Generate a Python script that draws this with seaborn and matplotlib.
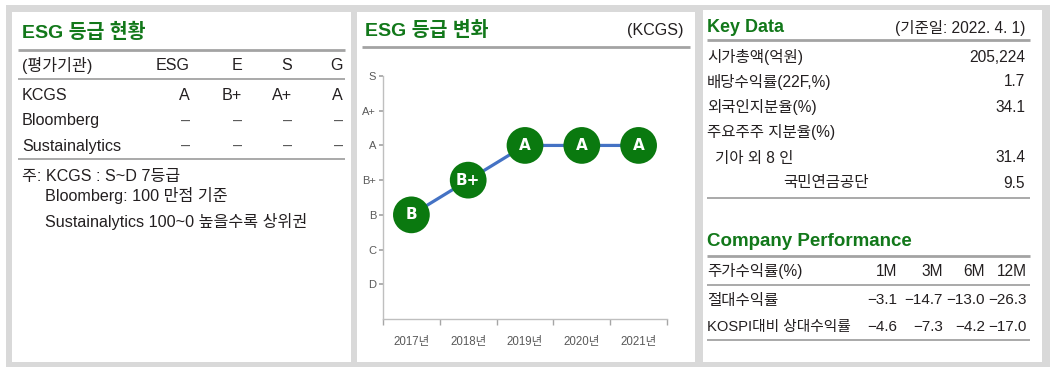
import matplotlib
matplotlib.use("Agg")
import pandas as pd
import seaborn as sns
import matplotlib.pyplot as plt
from matplotlib.patches import Rectangle

# ESG rating table (left panel)
esg_header = ["(평가기관)", "ESG", "E", "S", "G"]
esg_agencies = ["KCGS", "Bloomberg", "Sustainalytics"]
kcgs_grades = ["A", "B+", "A+", "A"]
bloomberg_grades = ["–", "–", "–", "–"]
sustain_grades = ["–", "–", "–", "–"]
esg_notes = ["주: KCGS : S~D 7등급", "Bloomberg: 100 만점 기준",
             "Sustainalytics 100~0 높을수록 상위권"]

# ESG grade history (middle panel)
years = ["2017년", "2018년", "2019년", "2020년", "2021년"]
grade_levels = ["D", "C", "B", "B+", "A", "A+", "S"]
grade_history = ["B", "B+", "A", "A", "A"]

# Key data (right panel)
key_labels = ["시가총액(억원)", "배당수익률(22F,%)", "외국인지분율(%)",
              "주요주주 지분율(%)", "기아 외 8 인", "국민연금공단"]
key_values = ["205,224", "1.7", "34.1", "", "31.4", "9.5"]
perf_header = ["주가수익률(%)", "1M", "3M", "6M", "12M"]
perf_abs = ["−3.1", "−14.7", "−13.0", "−26.3"]
perf_rel = ["−4.6", "−7.3", "−4.2", "−17.0"]

W, H = 1050, 378
GREEN = "#12781a"
TXT = "#231f20"
LINE = "#a3a3a3"
FS = 11.6   # body text, left/middle
FR = 11.2   # body text, right panel
FN = 11     # numbers

sns.set_theme(style="white")
plt.rcParams["font.family"] = ["Liberation Sans", "Noto Sans CJK KR"]
plt.rcParams["axes.unicode_minus"] = True

fig = plt.figure(figsize=(W / 100, H / 100), dpi=100)
fig.patch.set_facecolor("white")

bg = fig.add_axes([0, 0, 1, 1])
bg.set_xlim(0, W)
bg.set_ylim(H, 0)
bg.axis("off")

# gray frame + white panels
bg.add_patch(Rectangle((6, 5), W - 6, 362, color="#d9d9d9", lw=0))
for x0, x1, y0 in [(12, 351, 12), (357, 695, 12), (703, 1042, 10)]:
    bg.add_patch(Rectangle((x0, y0), x1 - x0, 362 - y0, color="white", lw=0))

def hline(y, x0, x1, lw=1.3):
    bg.plot([x0, x1], [y, y], color=LINE, lw=lw, solid_capstyle="butt")

# ---- left panel ----
bg.text(22, 32, "ESG 등급 현황", color=GREEN, fontsize=14, fontweight="bold", va="center")
hline(50, 18, 345, 2)
col_x = [190, 242, 292, 343]
bg.text(22, 66, esg_header[0], color=TXT, fontsize=FS, va="center")
for cx, h in zip(col_x, esg_header[1:]):
    bg.text(cx, 66, h, color=TXT, fontsize=FS, va="center", ha="right")
hline(79, 18, 345)
for ry, name, grades in zip([96, 121, 146], esg_agencies,
                            [kcgs_grades, bloomberg_grades, sustain_grades]):
    bg.text(22, ry, name, color=TXT, fontsize=FS, va="center")
    for cx, g in zip(col_x, grades):
        bg.text(cx, ry, g, color=TXT if g != "–" else "#555555", fontsize=FS,
                va="center", ha="right")
hline(159, 18, 345)
for nx, ny, note in zip([22, 45, 45], [176, 196, 222], esg_notes):
    bg.text(nx, ny, note, color=TXT, fontsize=FS, va="center")

# ---- middle panel ----
bg.text(365, 30, "ESG 등급 변화", color=GREEN, fontsize=14, fontweight="bold", va="center")
bg.text(684, 30, "(KCGS)", color=TXT, fontsize=FS, va="center", ha="right")
hline(47, 362, 690, 2)

df = pd.DataFrame({"year": years, "grade": grade_history})
df["level"] = df["grade"].map({g: i + 1 for i, g in enumerate(grade_levels)})

ax = fig.add_axes([383 / W, 1 - 319 / H, (667 - 383) / W, (319 - 76) / H])
ax.set_facecolor("none")
sns.lineplot(data=df, x="year", y="level", color="#4472c4", lw=2.3, sort=False, ax=ax)
sns.scatterplot(data=df, x="year", y="level", color="#0a790f", s=700,
                edgecolor="none", zorder=3, ax=ax, clip_on=False)
for i, row in df.iterrows():
    ax.text(i, row["level"], row["grade"], color="white", fontsize=11,
            fontweight="bold", ha="center", va="center", zorder=4,
            family=["DejaVu Sans"])
ax.set_xlim(-0.5, len(years) - 0.5)
ax.set_ylim(0, len(grade_levels))
ax.set_yticks(range(1, len(grade_levels) + 1))
ax.set_yticklabels(grade_levels)
ax.set_xticks(range(len(years)))
ax.set_xticklabels(years)
ax.set_xticks([i - 0.5 for i in range(len(years) + 1)], minor=True)
ax.tick_params(axis="x", which="major", length=0, pad=12, labelsize=8.3, labelcolor="#595959")
ax.tick_params(axis="x", which="minor", length=4, color="#a6a6a6", direction="out", bottom=True)
ax.tick_params(axis="y", length=3, color="#a6a6a6", direction="out", left=True,
               labelsize=8, labelcolor="#595959", pad=2)
ax.set_xlabel("")
ax.set_ylabel("")
for s in ["top", "right"]:
    ax.spines[s].set_visible(False)
for s in ["left", "bottom"]:
    ax.spines[s].set_color("#bfbfbf")
    ax.spines[s].set_linewidth(1)

# ---- right panel ----
bg.text(707, 28, "Key Data", color=GREEN, fontsize=13, fontweight="bold", va="center")
bg.text(1025, 28, "(기준일: 2022. 4. 1)", color=TXT, fontsize=FR, va="center", ha="right")
hline(40, 707, 1030, 2)
for lx, ry, lab, val in zip([707, 707, 707, 707, 715, 783],
                            [57, 82, 107, 132, 158, 183], key_labels, key_values):
    bg.text(lx, ry, lab, color=TXT, fontsize=FR, va="center")
    bg.text(1025, ry, val, color=TXT, fontsize=FR, va="center", ha="right")
hline(198, 707, 1030)

bg.text(707, 242, "Company Performance", color=GREEN, fontsize=13.5, fontweight="bold", va="center")
hline(256, 707, 1030, 2)
pcol_x = [897, 943, 985, 1027]
bg.text(707, 271, perf_header[0], color=TXT, fontsize=FR, va="center")
for cx, h in zip(pcol_x, perf_header[1:]):
    bg.text(cx, 271, h, color=TXT, fontsize=FR, va="center", ha="right")
hline(285, 707, 1030)
for ry, lab, vals in zip([300, 327], ["절대수익률", "KOSPI대비 상대수익률"], [perf_abs, perf_rel]):
    bg.text(707, ry, lab, color=TXT, fontsize=FR if len(lab) < 8 else 10.6, va="center")
    for cx, v in zip(pcol_x, vals):
        bg.text(cx, ry, v, color=TXT, fontsize=FN, va="center", ha="right")
hline(340, 707, 1030)

fig.savefig("out.png", dpi=100, facecolor=fig.get_facecolor())
